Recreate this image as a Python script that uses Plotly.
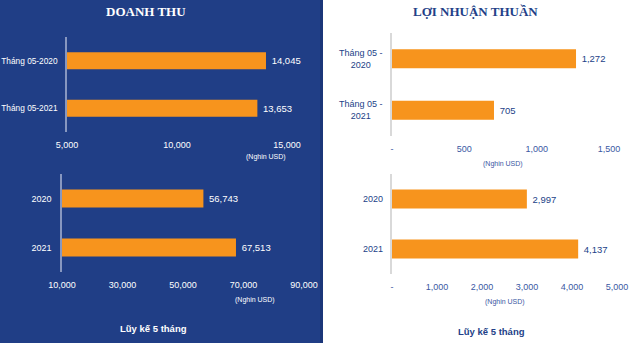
import plotly.graph_objects as go

W, H = 640, 343

# ---- data ----
dt_month_cats = ["Tháng 05-2020", "Tháng 05-2021"]
dt_month_vals = [14045, 13653]
dt_ytd_cats = ["2020", "2021"]
dt_ytd_vals = [56743, 67513]

ln_month_cats = ["Tháng 05 -<br>2020", "Tháng 05 -<br>2021"]
ln_month_vals = [1272, 705]
ln_ytd_cats = ["2020", "2021"]
ln_ytd_vals = [2997, 4137]

dt_month_ticks = [5000, 10000, 15000]
dt_month_ticktext = ["5,000", "10,000", "15,000"]
dt_ytd_ticks = [10000, 30000, 50000, 70000, 90000]
dt_ytd_ticktext = ["10,000", "30,000", "50,000", "70,000", "90,000"]
ln_month_ticks = [0, 500, 1000, 1500]
ln_month_ticktext = ["-", "500", "1,000", "1,500"]
ln_ytd_ticks = [0, 1000, 2000, 3000, 4000, 5000]
ln_ytd_ticktext = ["-", "1,000", "2,000", "3,000", "4,000", "5,000"]

BLUE = "#203e86"
ORANGE = "#f7941d"
DARK = "#233f88"
TICKBLUE = "#3a57a3"
FONT = "Liberation Sans, Arial, sans-serif"
SERIF = "Liberation Serif, DejaVu Serif, serif"


def fx(x):
    return x / W


def fy(y):
    return 1 - y / H


fig = go.Figure()

panels = [
    (dt_month_cats, dt_month_vals, dt_month_ticks, dt_month_ticktext, (67, 287), (37, 132), [5000, 15000], "white", "white", "#8797c0", 0.36, 8.3, 6),
    (dt_ytd_cats, dt_ytd_vals, dt_ytd_ticks, dt_ytd_ticktext, (62, 304), (174, 272), [10000, 90000], "white", "white", "#8797c0", 0.37, 9, 7),
    (ln_month_cats, ln_month_vals, ln_month_ticks, ln_month_ticktext, (392, 609), (33, 136), [0, 1500], DARK, TICKBLUE, "#d9d9d9", 0.37, 9, 7),
    (ln_ytd_cats, ln_ytd_vals, ln_ytd_ticks, ln_ytd_ticktext, (392, 617), (174, 274), [0, 5000], DARK, TICKBLUE, "#d9d9d9", 0.38, 9, 7),
]

annotations = []
for i, (cats, vals, ticks, ttext, xd, yd, rng, tcol, tkcol, lcol, bw, csize, cstand) in enumerate(panels):
    n = "" if i == 0 else str(i + 1)
    fig.add_trace(go.Bar(
        y=cats, x=vals, orientation="h",
        marker=dict(color=ORANGE, line=dict(width=0)), width=bw,
        text=["\u00a0" + f"{v:,}" for v in vals], textposition="outside",
        textfont=dict(family=FONT, size=9.5, color=tcol),
        constraintext="none", cliponaxis=False,
        xaxis="x" + n, yaxis="y" + n, showlegend=False, hoverinfo="skip",
    ))
    fig.layout["xaxis" + n] = dict(
        domain=[fx(xd[0]), fx(xd[1])], range=rng, anchor="y" + n, automargin=False,
        showgrid=False, zeroline=False, showline=False, ticks="",
        tickmode="array", tickvals=ticks, ticktext=ttext,
        tickfont=dict(family=FONT, size=9, color=tkcol),
        ticklabelstandoff=6, fixedrange=True,
    )
    right = i >= 2
    fig.layout["yaxis" + n] = dict(
        domain=[fy(yd[1]), fy(yd[0])], anchor="x" + n, automargin=False,
        range=[1.5, -0.5], type="category", categoryorder="array", categoryarray=cats,
        showgrid=False, zeroline=False, showline=True, linecolor=lcol, linewidth=1.5,
        ticks="", showticklabels=not right,
        tickfont=dict(family=FONT, size=csize, color=tcol),
        ticklabelstandoff=cstand, fixedrange=True,
    )
    if right:
        for k, c in enumerate(cats):
            annotations.append(dict(
                xref="paper", yref="y" + n, x=fx(385), y=k, xanchor="right", yanchor="middle",
                text=c, align="center", showarrow=False,
                font=dict(family=FONT, size=csize, color=DARK),
            ))

texts = [
    ("<b>DOANH THU</b>", 146, 12, "white", SERIF, 13),
    ("<b>LỢI NHUẬN THUẦN</b>", 475, 12, DARK, SERIF, 13),
    ("(Nghin USD)", 266, 157, "white", FONT, 7),
    ("(Nghin USD)", 255, 300, "white", FONT, 7),
    ("(Nghin USD)", 503, 164, TICKBLUE, FONT, 7),
    ("(Nghin USD)", 505, 302, TICKBLUE, FONT, 7),
    ("<b>Lũy kế 5 tháng</b>", 153, 328, "white", FONT, 9.5),
    ("<b>Lũy kế 5 tháng</b>", 491, 331, DARK, FONT, 9.5),
]
for t, x, y, c, f, s in texts:
    annotations.append(dict(
        xref="paper", yref="paper", x=fx(x), y=fy(y), xanchor="center", yanchor="middle",
        text=t, showarrow=False, font=dict(family=f, size=s, color=c),
    ))

fig.update_layout(
    width=W, height=H, margin=dict(l=0, r=0, t=0, b=0, autoexpand=False),
    paper_bgcolor="white", plot_bgcolor="rgba(0,0,0,0)",
    annotations=annotations,
    shapes=[
        dict(type="rect", xref="paper", yref="paper", x0=0, x1=fx(323), y0=0, y1=1,
             fillcolor=BLUE, line=dict(width=0), layer="below"),
        dict(type="rect", xref="paper", yref="paper", x0=fx(320), x1=fx(323), y0=0, y1=1,
             fillcolor="#1b3679", line=dict(width=0), layer="below"),
    ],
)

fig.write_html("out.html")
